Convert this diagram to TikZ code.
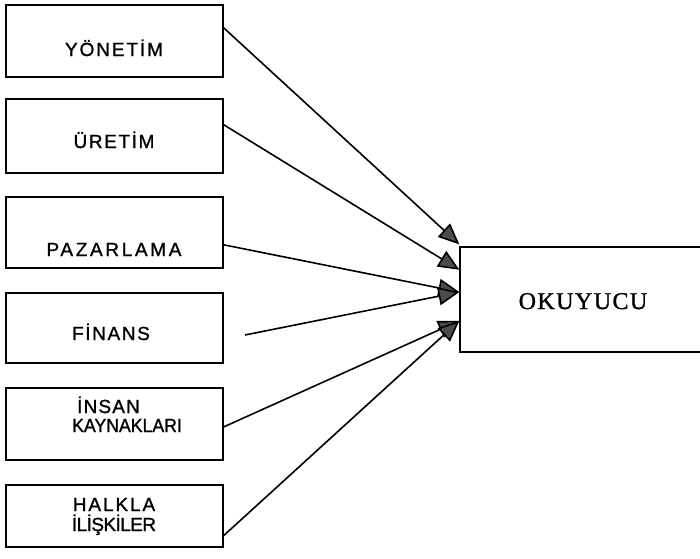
\documentclass[tikz,border=0pt]{standalone}
\usepackage{graphicx}
\usepackage{fontspec}
\setmainfont{Liberation Sans}[FakeBold=1.2]
\newfontfamily\okfont{Liberation Serif}[FakeBold=1.2]
\usetikzlibrary{arrows.meta,calc}
\begin{document}
\begin{tikzpicture}[x=1pt,y=-1pt,
  dept/.style={draw=black, line width=1.3pt, rectangle, inner sep=0pt, minimum width=217pt},
  lbl/.style={font=\fontsize{19}{19}\selectfont, align=center, inner sep=0pt, anchor=base},
  link/.style={draw=black, line width=1.6pt, -{Triangle[length=21pt,width=18pt,fill=black!70]}},
]
\useasboundingbox (0,0) rectangle (700,558);
\clip (0,0) rectangle (700,558);

% department boxes
\node[dept, minimum height=72pt] (yon) at (114.5,41) {};
\node[dept, minimum height=74pt] (ure) at (114.5,136) {};
\node[dept, minimum height=71pt] (paz) at (114.5,232.5) {};
\node[dept, minimum height=70pt] (fin) at (114.5,328) {};
\node[dept, minimum height=72pt] (ins) at (114.5,424) {};
\node[dept, minimum height=62pt] (hal) at (114.5,516) {};

% labels
\node[lbl] (tyon) at (114,56) {\addfontfeature{LetterSpace=10}YÖNETİM};
\node[lbl] (ture) at (114,148) {\addfontfeature{LetterSpace=8.5}ÜRETİM};
\node[lbl] (tpaz) at (114,256) {\addfontfeature{LetterSpace=14}PAZARLAMA};
\node[lbl] (tfin) at (111,340) {\addfontfeature{LetterSpace=8.5}FİNANS};
\node[lbl, align=left, anchor=base west] (tins) at (72,432) {\hspace*{5pt}{\addfontfeature{LetterSpace=6}İNSAN}\\\scalebox{0.93}[1]{KAYNAKLARI}};
\node[lbl, font=\fontsize{19}{20}\selectfont] (thal) at (114,531) {{\addfontfeature{LetterSpace=10}HALKLA}\\{\addfontfeature{LetterSpace=-3}İLİŞKİLER}};

% reader box
\node[draw=black, line width=1.3pt, rectangle, inner sep=0pt, minimum width=244pt, minimum height=105pt] (ok) at (582,299.5) {};
\node[font=\okfont\fontsize{24}{24}\selectfont\addfontfeature{LetterSpace=6}, inner sep=0pt, anchor=base] (tok) at (583,309) {OKUYUCU};

% arrow tips and free start
\coordinate (t1) at ($(ok.north west)+(0,-2)$);
\coordinate (t2) at ($(ok.north west)!0.22!(ok.south west)$);
\coordinate (t3) at ($(ok.north west)!0.43!(ok.south west)$);
\coordinate (t4) at ($(ok.north west)!0.70!(ok.south west)$);
\coordinate (fs) at (245,335);

% connectors
\draw[link] ($(yon.north east)!0.32!(yon.south east)$) -- (t1);
\draw[link] ($(ure.north east)!0.35!(ure.south east)$) -- (t2);
\draw[link] ($(paz.north east)!0.67!(paz.south east)$) -- (t3);
\draw[link] (fs) -- (t3);
\draw[link] ($(ins.north east)!0.54!(ins.south east)$) -- (t4);
\draw[link] ($(hal.north east)!0.81!(hal.south east)$) -- (t4);
\end{tikzpicture}
\end{document}
